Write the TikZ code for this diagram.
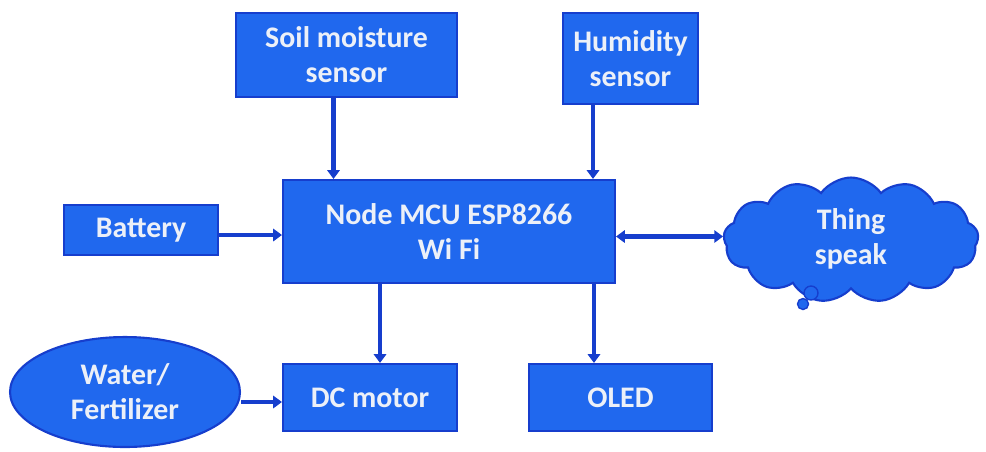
\documentclass[tikz,border=0pt]{standalone}
\usepackage{fontspec}
\setmainfont{Carlito}
\usetikzlibrary{shapes.geometric,shapes.symbols,arrows.meta}
\definecolor{boxblue}{RGB}{32,104,238}
\definecolor{edgeblue}{RGB}{22,62,205}
\definecolor{txtwhite}{RGB}{236,240,248}
\begin{document}
\begin{tikzpicture}[x=0.02cm,y=-0.02cm,
  every node/.style={fill=boxblue,draw=edgeblue,line width=1.2pt,text=txtwhite,
    font=\fontsize{17}{20}\selectfont\bfseries,align=center,inner sep=2pt},
  block/.style={rectangle},
  arr/.style={draw=edgeblue,line width=2.6pt,-{Triangle[length=5pt,width=7pt]}}]
\useasboundingbox (0,0) rectangle (986,451);
\node[block,minimum width=4.42cm,minimum height=1.68cm] (soil) at (346.5,55) {Soil moisture\\sensor};
\node[block,minimum width=2.7cm,minimum height=1.82cm] (hum) at (630.5,58.5) {Humidity\\sensor};
\node[block,minimum width=6.64cm,minimum height=2.06cm] (mcu) at (449,231.5) {Node MCU ESP8266\\Wi Fi};
\node[block,minimum width=3.08cm,minimum height=1cm] (bat) at (141,230) {Battery};
\node[block,minimum width=3.48cm,minimum height=1.34cm] (dc) at (370,397.5) {DC motor};
\node[block,minimum width=3.66cm,minimum height=1.34cm] (oled) at (620.5,397.5) {OLED};
\node[ellipse,minimum width=4.6cm,minimum height=2.2cm] (water) at (125,392) {Water/\\Fertilizer};
\node[cloud,cloud puffs=13,cloud puff arc=110,aspect=2.1,minimum width=5.1cm,minimum height=2.5cm,inner sep=0pt] (cloud) at (851,240)
  {\raisebox{6pt}{\begin{tabular}{@{}c@{}}Thing\\speak\end{tabular}}};
\node[circle,minimum size=0.28cm,inner sep=0pt,line width=0.8pt] (bub1) at (811,293) {};
\node[circle,minimum size=0.22cm,inner sep=0pt,line width=0.8pt] (bub2) at (803,304) {};
% connectors
\draw[arr] ([xshift=-0.26cm]soil.south) -- ([xshift=-0.26cm]soil.south |- mcu.north);
\draw[arr] ([xshift=-0.75cm]hum.south) -- ([xshift=-0.75cm]hum.south |- mcu.north);
\draw[arr] ([yshift=-0.1cm]bat.east) -- ([yshift=-0.1cm]bat.east -| mcu.west);
\draw[arr,{Triangle[length=5pt,width=7pt]}-{Triangle[length=5pt,width=7pt]}] ([yshift=-0.1cm]mcu.east) -- ([yshift=-0.1cm]mcu.east -| cloud.west);
\draw[arr] ([xshift=-1.38cm]mcu.south) -- ([xshift=-1.38cm]mcu.south |- dc.north);
\draw[arr] ([xshift=2.9cm]mcu.south) -- ([xshift=2.9cm]mcu.south |- oled.north);
\draw[arr] ([yshift=-0.2cm]water.east) -- ([yshift=-0.2cm]water.east -| dc.west);
\end{tikzpicture}
\end{document}
